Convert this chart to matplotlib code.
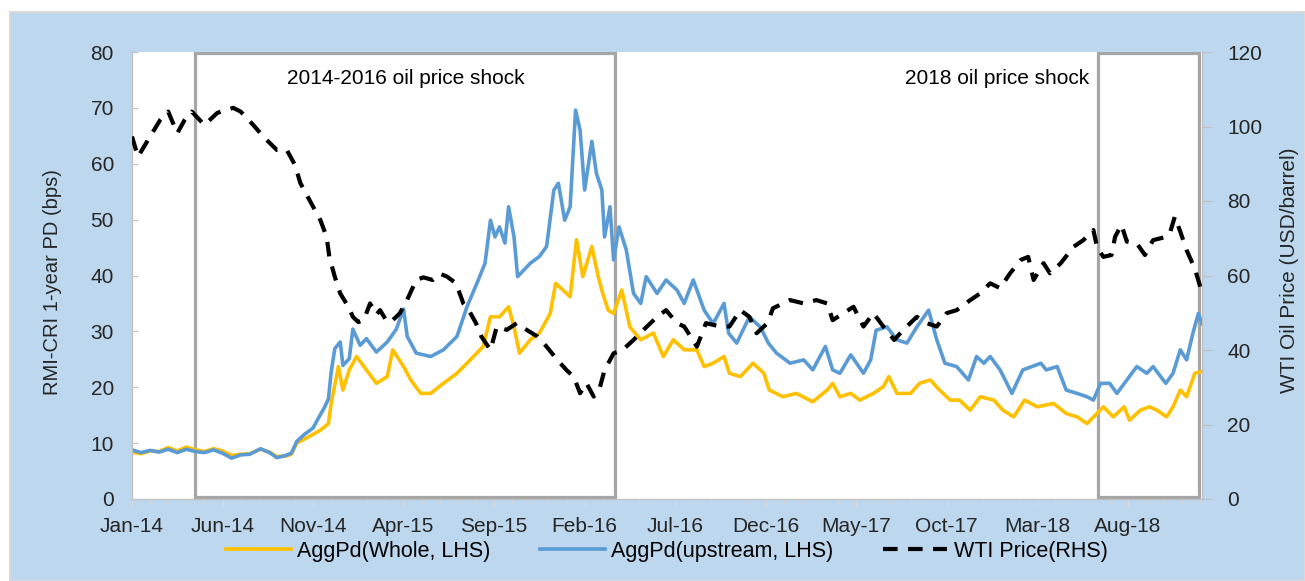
import numpy as np
import matplotlib
matplotlib.use("Agg")
import matplotlib.pyplot as plt
from matplotlib.patches import Rectangle
from matplotlib.lines import Line2D

plt.rcParams['font.family'] = ['Liberation Sans', 'DejaVu Sans']

# x positions are months since Jan-2014
tick_labels = ['Jan-14', 'Jun-14', 'Nov-14', 'Apr-15', 'Sep-15', 'Feb-16', 'Jul-16',
               'Dec-16', 'May-17', 'Oct-17', 'Mar-18', 'Aug-18']

wti_m = [0, 0.33, 1.0, 1.55, 2.0, 2.5, 2.9, 3.3, 4.0, 4.7, 5.1, 5.6, 6.0, 6.7, 7.25, 8.0, 8.55,
         9.0, 9.3, 9.8, 10.4, 10.75, 10.9, 11.2, 11.5, 11.95, 12.2, 12.5, 12.8, 13.15, 13.5, 13.7,
         14.1, 14.4, 14.8, 15.2, 15.7, 16.1, 16.6, 17.0, 17.4, 17.9, 18.3, 18.6, 19.0, 19.3, 19.8,
         20.15, 20.7, 21.25, 21.8, 22.4, 22.9, 23.5, 24.0, 24.4, 24.75, 25.1, 25.5, 25.85, 26.1,
         26.6, 27.1, 27.7, 28.25, 29.0, 29.5, 30.1, 30.5, 31.2, 31.7, 32.5, 33.0, 33.6, 34.1, 34.5,
         35.1, 35.4, 36.35, 37.1, 37.8, 38.4, 38.7, 39.3, 39.85, 40.4, 40.95, 41.5, 42.1, 42.6,
         43.35, 43.9, 44.45, 45.0, 45.55, 46.3, 46.85, 47.4, 47.95, 48.5, 49.1, 49.5, 49.8, 50.35,
         50.7, 51.3, 52.0, 52.55, 53.1, 53.3, 53.65, 54.1, 54.3, 54.65, 54.95, 55.5, 55.95, 56.4,
         57.15, 57.35, 57.6, 57.9, 58.25, 58.7, 59.0]
wti_price = [97.3, 91.9, 97.3, 101.7, 104, 98.2, 101.7, 104, 100.4, 103.6, 104.4, 105, 104, 100.4,
             97.3, 93.7, 93.7, 89.7, 84.8, 80.3, 74.9, 70.4, 65, 59.7, 55.2, 51.6, 48.9, 47.5, 48,
             52.5, 49.5, 50.7, 47.5, 48, 49.9, 53.5, 58.8, 59.5, 58.8, 60.5, 59.7, 57.9, 52.5, 50.7,
             47.2, 43.6, 40, 46.3, 45.4, 47.2, 45.4, 43.6, 40.9, 37.3, 34.6, 32.8, 28.4, 31.1, 27.5,
             30.1, 34.6, 39.1, 40, 42.7, 45.4, 48.9, 50.7, 47.2, 46.3, 40.9, 47.2, 46.3, 46.3, 50.7,
             48.9, 44.5, 47.2, 51.2, 53.4, 52.5, 53.4, 52.5, 48, 49.9, 51.6, 46.3, 49.9, 46.3, 42.7,
             45.4, 48.9, 47.2, 46.3, 49.9, 50.7, 53.4, 55.2, 57.9, 56.6, 60.6, 64.2, 65, 58.8, 63.3,
             60.6, 63.3, 67.7, 69.5, 72.2, 67.7, 65, 65.5, 70.4, 73.6, 69.1, 68.6, 65.5, 69.5, 70.4,
             71.8, 75.8, 71.8, 66.8, 61.9, 57.0]

up_m = [0, 0.5, 1.0, 1.5, 2.0, 2.5, 3.0, 3.5, 4.0, 4.5, 5.0, 5.5, 6.0, 6.5, 7.1, 7.6, 8.0, 8.5,
        8.8, 9.1, 9.5, 10.0, 10.3, 10.6, 10.85, 11.0, 11.2, 11.5, 11.65, 12.0, 12.2, 12.6, 12.95,
        13.5, 14.1, 14.6, 15.0, 15.2, 15.7, 16.5, 17.2, 17.95, 18.5, 19.05, 19.5, 19.8, 20.05,
        20.3, 20.6, 20.8, 21.1, 21.3, 22.0, 22.5, 22.9, 23.3, 23.55, 23.9, 24.2, 24.5, 24.75,
        25.0, 25.4, 25.65, 25.95, 26.1, 26.4, 26.6, 26.9, 27.3, 27.7, 28.1, 28.4, 29.0, 29.5,
        30.1, 30.5, 31.0, 31.6, 32.1, 32.7, 32.95, 33.4, 34.1, 34.7, 35.15, 35.6, 36.35, 37.1,
        37.6, 38.3, 38.7, 39.1, 39.7, 40.4, 40.8, 41.1, 41.7, 42.25, 42.8, 43.35, 44.0, 44.45,
        44.9, 45.55, 46.2, 46.65, 47.05, 47.4, 47.95, 48.6, 49.2, 50.2, 50.5, 51.1, 51.6, 52.2,
        52.75, 53.1, 53.5, 54.0, 54.4, 54.95, 55.5, 56.05, 56.4, 57.1, 57.5, 57.9, 58.25, 58.6,
        58.9, 59.1]
up_pd = [8.8, 8.3, 8.7, 8.4, 8.9, 8.3, 8.9, 8.5, 8.3, 8.8, 8.2, 7.3, 7.9, 8.0, 9.0, 8.3, 7.4, 7.8,
         8.2, 10.3, 11.5, 12.7, 14.5, 16.2, 17.9, 22.7, 26.9, 28.1, 23.9, 25.1, 30.4, 27.5, 28.7,
         26.3, 28.1, 30.4, 34, 29.1, 26.1, 25.5, 26.7, 29.1, 34.4, 38.6, 42.2, 49.9, 46.9, 48.7,
         45.8, 52.3, 46.9, 39.8, 42.2, 43.4, 45.2, 55.3, 56.5, 49.9, 52.3, 69.6, 66, 55.3, 64,
         58.3, 55.3, 46.9, 52.3, 42.8, 48.7, 44.6, 36.8, 35, 39.8, 36.8, 39.2, 37.4, 35, 39.2,
         33.8, 31.4, 35, 29.7, 27.9, 32.6, 30.8, 27.9, 26.1, 24.3, 24.9, 23.1, 27.3, 23.1, 22.5,
         25.8, 22.5, 24.9, 30.2, 30.8, 28.5, 27.9, 30.8, 33.8, 28.5, 24.3, 23.7, 21.3, 25.5, 24.3,
         25.5, 23.1, 18.9, 23.1, 24.3, 23.1, 23.7, 19.5, 18.9, 18.3, 17.7, 20.7, 20.7, 18.9, 21.3,
         23.7, 22.5, 23.7, 20.7, 22.5, 26.7, 24.9, 29.7, 33.2, 31.4]

whole_m = [0, 0.5, 1.0, 1.5, 2.0, 2.5, 3.0, 3.5, 4.0, 4.5, 5.0, 5.5, 6.0, 6.5, 7.1, 7.6, 8.0, 8.5,
           8.8, 9.1, 9.8, 10.4, 10.85, 11.0, 11.4, 11.65, 12.0, 12.4, 12.95, 13.5, 14.1, 14.4,
           15.0, 15.4, 15.95, 16.5, 17.2, 17.95, 18.5, 19.4, 19.8, 20.3, 20.8, 21.1, 21.4, 22.0,
           22.5, 23.1, 23.4, 23.8, 24.2, 24.55, 24.9, 25.4, 25.75, 26.0, 26.3, 26.6, 27.05, 27.5,
           28.1, 28.8, 29.35, 29.9, 30.5, 31.2, 31.6, 32.1, 32.7, 33.0, 33.6, 34.3, 34.9, 35.2,
           35.95, 36.7, 37.6, 38.4, 38.7, 39.1, 39.7, 40.2, 40.95, 41.5, 41.8, 42.25, 43.0, 43.5,
           44.1, 44.6, 45.2, 45.7, 46.3, 46.85, 47.6, 48.1, 48.7, 49.3, 50.0, 50.9, 51.6, 52.2,
           52.75, 53.3, 53.65, 54.2, 54.8, 55.1, 55.7, 56.2, 56.6, 57.15, 57.5, 57.9, 58.25, 58.7,
           59.05]
whole_pd = [8.4, 8.1, 8.6, 8.5, 9.2, 8.6, 9.3, 8.8, 8.5, 9.0, 8.6, 7.8, 8.0, 8.1, 8.9, 8.4, 7.6,
            7.7, 8.0, 10, 11.2, 12.3, 13.5, 17.1, 23.7, 19.5, 23.1, 25.5, 23.1, 20.7, 21.9, 26.7,
            23.7, 21.3, 18.9, 18.9, 20.7, 22.5, 24.3, 27.3, 32.6, 32.6, 34.4, 30.8, 26.1, 28.5,
            29.7, 33.2, 38.6, 37.4, 36.2, 46.4, 39.8, 45.2, 39.8, 36.8, 33.8, 33.2, 37.4, 30.8,
            28.5, 29.7, 25.5, 28.5, 26.7, 26.7, 23.7, 24.3, 25.5, 22.5, 21.9, 24.3, 22.5, 19.5,
            18.3, 18.9, 17.4, 19.5, 20.7, 18.3, 18.9, 17.7, 18.9, 20.1, 21.9, 18.9, 18.9, 20.7,
            21.3, 19.5, 17.7, 17.7, 15.9, 18.3, 17.7, 15.9, 14.7, 17.7, 16.5, 17.1, 15.3, 14.7,
            13.5, 15.3, 16.5, 14.7, 16.5, 14.1, 15.9, 16.5, 15.9, 14.7, 16.5, 19.5, 18.3, 22.5,
            22.8]

# shock windows (start month, end month)
shock_windows = [(3.5, 26.7), (53.35, 58.95)]

fig = plt.figure(figsize=(13.05, 5.81), dpi=100, facecolor='white')
fig.patches.append(Rectangle((10 / 1305, 0), 1 - 10 / 1305, 1 - 12 / 581,
                             transform=fig.transFigure, facecolor='#BDD7EE',
                             edgecolor='#D9D9D9', linewidth=1.5, zorder=-10))

ax = fig.add_axes([132 / 1305, 1 - 499 / 581, (1202 - 132) / 1305, (499 - 52) / 581])
ax.set_facecolor('white')
ax2 = ax.twinx()

yellow = '#FFC000'
blue = '#5B9BD5'
wti_dash = (3.5, 2.5)
ax.plot(whole_m, whole_pd, color=yellow, lw=2.6, zorder=3)
ax.plot(up_m, up_pd, color=blue, lw=2.6, zorder=4)
ax2.plot(wti_m, wti_price, color='black', lw=3, dashes=wti_dash, zorder=5)

for x0, x1 in shock_windows:
    ax.add_patch(Rectangle((x0, 0.35), x1 - x0, 79.4, fill=False, edgecolor='#A6A6A6',
                           lw=2.3, zorder=2))

ax.text(15.1, 75.3, '2014-2016 oil price shock', fontsize=15, ha='center', va='center')
ax.text(52.9, 75.3, '2018 oil price shock', fontsize=15, ha='right', va='center')

ax.set_xlim(0, 59.1)
ax.set_ylim(0, 80)
ax2.set_ylim(0, 120)
ax.set_yticks(range(0, 81, 10))
ax2.set_yticks(range(0, 121, 20))
ax.set_xticks(np.arange(0, 56, 5))
ax.set_xticklabels(tick_labels)
ax.set_xticks(np.arange(0, 60, 1), minor=True)

for a in (ax, ax2):
    for s in a.spines.values():
        s.set_color('#BFBFBF')
    a.spines['top'].set_visible(False)
ax.spines['bottom'].set_color('#D9D9D9')
ax.tick_params(axis='y', labelsize=15, colors='#262626', direction='in', length=4.5,
               color='#BFBFBF', pad=13)
ax2.tick_params(axis='y', labelsize=15, colors='#262626', direction='out', length=7,
                color='#BFBFBF', pad=11)
ax.tick_params(axis='x', which='major', labelsize=15, colors='#262626', length=6,
               color='#D9D9D9', pad=7)
ax.tick_params(axis='x', which='minor', length=3, color='#D9D9D9')

ax.set_ylabel('RMI-CRI 1-year PD (bps)', fontsize=14.5, color='#262626')
ax2.set_ylabel('WTI Oil Price (USD/barrel)', fontsize=15, color='#262626')
ax.yaxis.set_label_coords(-0.0654, 0.485)
ax2.yaxis.set_label_coords(1.073, 0.512)

handles = [Line2D([], [], color=yellow, lw=2.6),
           Line2D([], [], color=blue, lw=2.6),
           Line2D([], [], color='black', lw=3, dashes=wti_dash)]
fig.legend(handles, ['AggPd(Whole, LHS)', 'AggPd(upstream, LHS)', 'WTI Price(RHS)'],
           loc='center', bbox_to_anchor=(667 / 1305, 1 - 551 / 581), ncol=3, frameon=False,
           fontsize=15.5, handlelength=3.0, handletextpad=0.3, columnspacing=2.3)

fig.savefig('out.png', dpi=100, facecolor=fig.get_facecolor())
